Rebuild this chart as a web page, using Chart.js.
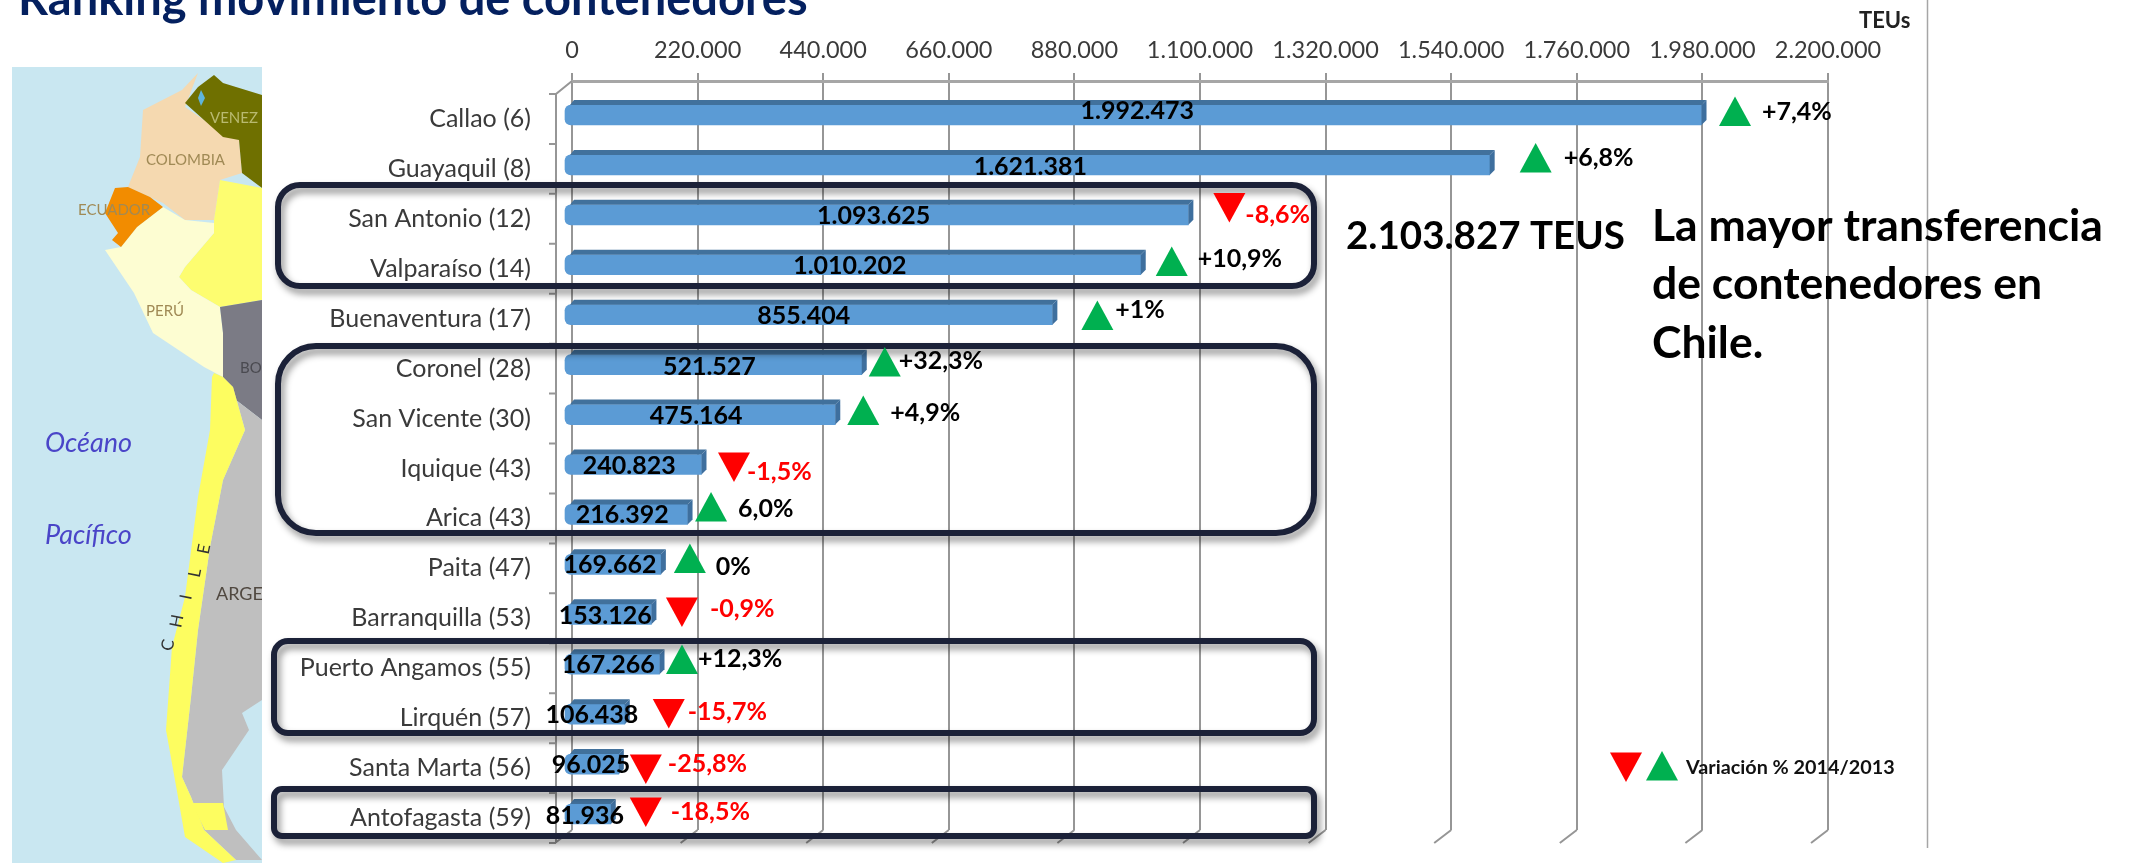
<!DOCTYPE html>
<html lang="es">
<head>
<meta charset="utf-8">
<title>Ranking movimiento de contenedores</title>
<script src="https://cdn.jsdelivr.net/npm/chart.js@4"></script>
<style>
  html, body { margin: 0; background: #fff; }
  canvas { display: block; }
</style>
</head>
<body>
<canvas id="mychart" width="2130" height="863"></canvas>
<script>
const puertos = ["Callao (6)", "Guayaquil (8)", "San Antonio (12)", "Valparaíso (14)", "Buenaventura (17)", "Coronel (28)", "San Vicente (30)", "Iquique (43)", "Arica (43)", "Paita (47)", "Barranquilla (53)", "Puerto Angamos (55)", "Lirquén (57)", "Santa Marta (56)", "Antofagasta (59)"];
const teus = [1992473, 1621381, 1093625, 1010202, 855404, 521527, 475164, 240823, 216392, 169662, 153126, 167266, 106438, 96025, 81936];
const teusTexto = ["1.992.473", "1.621.381", "1.093.625", "1.010.202", "855.404", "521.527", "475.164", "240.823", "216.392", "169.662", "153.126", "167.266", "106.438", "96.025", "81.936"];
const variacion = ["+7,4%", "+6,8%", "-8,6%", "+10,9%", "+1%", "+32,3%", "+4,9%", "-1,5%", "6,0%", "0%", "-0,9%", "+12,3%", "-15,7%", "-25,8%", "-18,5%"];
const xTicks = ["0", "220.000", "440.000", "660.000", "880.000", "1.100.000", "1.320.000", "1.540.000", "1.760.000", "1.980.000", "2.200.000"];

// ajustes a mano de las etiquetas, relativos a cada barra
const triDx = [33.5, 46, 41, 31, 45, 23, 28, 32.5, 23.5, 29, 30.5, 22.5, 44, 27, 35];
const triDy = [-3.5, -7, -7.4, -3.3, 0.8, -2.7, -4, 2.5, -7.4, -5.9, -2.3, -4.7, -0.7, 4.9, -2];
const varDx = [27, 28, 16, 26, 18, 14, 27, 13, 27, 26, 28, 16, 19, 22, 25];
const varDy = [-3, -7, 0, -6, -5, -4, -2, 7.5, -5, 2.6, -5, -5, -2, 0, -2];
const valDx = [4, 3, -3, -3, -5, -4, -4, -4, -4, -3, -3, -4, -3, -1, -3];
const valDy = [-4, 2, 1, 1, 1, 2, 1, 1.5, 0.6, 0.6, 1.7, 0.8, 0.8, 1, 2];

const FUENTE = "Lato, sans-serif";
const VERDE = "#00b050";
const ROJO = "#ff0000";
// desplazamiento de las barras respecto a la pared del fondo (efecto 3D)
const BAR_DX = -8;
const BAR_DY = 9;
const PROF = 5;

const poly = (ctx, color, pts) => {
  ctx.fillStyle = color;
  ctx.beginPath();
  pts.forEach((p, i) => (i ? ctx.lineTo(p[0], p[1]) : ctx.moveTo(p[0], p[1])));
  ctx.closePath();
  ctx.fill();
};

const texto = (ctx, str, x, y, font, color, align) => {
  ctx.font = font;
  ctx.fillStyle = color;
  ctx.textAlign = align || "left";
  ctx.textBaseline = "middle";
  ctx.fillText(str, x, y);
};

const triangulo = (ctx, cx, cy, sube) => {
  const s = sube ? -1 : 1;
  poly(ctx, sube ? VERDE : ROJO, [[cx - 16, cy - s * 14.5], [cx + 16, cy - s * 14.5], [cx, cy + s * 15]]);
};

const caja = (ctx, x, y, w, h, r) => {
  ctx.save();
  ctx.shadowColor = "rgba(0,0,0,0.45)";
  ctx.shadowBlur = 7;
  ctx.shadowOffsetX = 3;
  ctx.shadowOffsetY = 5;
  ctx.strokeStyle = "#1b2138";
  ctx.lineWidth = 6;
  ctx.beginPath();
  ctx.roundRect(x, y, w, h, r);
  ctx.stroke();
  ctx.restore();
};

const dibujarMapa = (ctx) => {
  ctx.save();
  ctx.beginPath();
  ctx.rect(12, 67, 250, 796);
  ctx.clip();
  ctx.fillStyle = "#c9e7f1";
  ctx.fillRect(12, 67, 250, 796);
  // Colombia
  poly(ctx, "#f5d9b0", [[198,73],[182,90],[143,110],[140,157],[128,187],[150,197],[163,203],[185,220],[214,220],[220,180],[242,173],[239,140],[223,133],[185,107]]);
  // Venezuela
  poly(ctx, "#6f7000", [[214,75],[198,87],[185,103],[223,137],[239,140],[242,173],[262,188],[262,95],[223,83]]);
  poly(ctx, "#5fb5dc", [[201,90],[205,98],[201,106],[198,98]]);
  // Brasil
  poly(ctx, "#fdfd70", [[220,180],[262,188],[262,300],[220,307],[191,290],[179,277],[185,267],[214,233],[214,220]]);
  // Perú
  poly(ctx, "#fdfdd2", [[121,247],[137,227],[163,207],[185,220],[214,223],[214,233],[185,267],[179,277],[191,290],[220,307],[223,333],[223,377],[204,367],[153,333],[134,293],[105,250]]);
  // Ecuador
  poly(ctx, "#f28c00", [[115,188],[105,213],[118,233],[112,240],[121,247],[137,227],[163,207],[150,197],[128,187]]);
  // Bolivia
  poly(ctx, "#7b7b85", [[220,307],[262,300],[262,420],[236,400],[223,377],[223,333]]);
  // Argentina
  poly(ctx, "#bfbfbf", [[223,377],[236,400],[262,420],[262,700],[242,713],[249,730],[222,770],[224,807],[236,830],[262,860],[236,860],[204,830],[191,797],[182,777],[191,697],[198,630],[210,547],[223,480],[245,430],[233,387]]);
  // Chile
  poly(ctx, "#fdfd60", [[214,373],[212,377],[210,430],[198,497],[185,597],[172,647],[166,730],[178,797],[185,837],[223,863],[236,860],[204,830],[191,797],[182,777],[191,697],[198,630],[210,547],[223,480],[245,430],[233,387],[223,377]]);
  poly(ctx, "#fdfd60", [[191,803],[223,803],[228,830],[205,830]]);
  const f = "15px " + FUENTE;
  texto(ctx, "VENEZ", 210, 118, "15px " + FUENTE, "#b9ba70");
  texto(ctx, "COLOMBIA", 146, 160, f, "#a08a55");
  texto(ctx, "ECUADOR", 78, 210, f, "#a08a55");
  texto(ctx, "PERÚ", 146, 311, f, "#a08a55");
  texto(ctx, "BO", 240, 368, f, "#4a4a50");
  texto(ctx, "ARGE", 216, 594, "18px " + FUENTE, "#504840");
  const it = "italic 27px " + FUENTE;
  texto(ctx, "Océano", 45, 443, it, "#4a45c8");
  texto(ctx, "Pacífico", 45, 535, it, "#4a45c8");
  ["C", "H", "I", "L", "E"].forEach((c, i) => {
    ctx.save();
    ctx.translate(168 + i * 9, 645 - i * 24);
    ctx.rotate(-Math.PI / 2 + 0.2);
    texto(ctx, c, 0, 0, "17px " + FUENTE, "#333", "center");
    ctx.restore();
  });
  ctx.restore();
};

const decoracion = {
  id: "decoracion",
  beforeDraw(chart) {
    const ctx = chart.ctx;
    dibujarMapa(ctx);
    ctx.save();
    // título, cortado por el borde superior como en la lámina
    ctx.textBaseline = "alphabetic";
    ctx.font = "bold 47px " + FUENTE;
    ctx.fillStyle = "#04205f";
    ctx.textAlign = "left";
    ctx.fillText("Ranking movimiento de contenedores", 18, 15);
    texto(ctx, "TEUs", 1859, 21, "bold 22px " + FUENTE, "#222");
    ctx.strokeStyle = "#a6a6a6";
    ctx.lineWidth = 1.5;
    ctx.beginPath();
    ctx.moveTo(1927.5, 0);
    ctx.lineTo(1927.5, 848);
    ctx.stroke();
    ctx.restore();
  },
  beforeDatasetsDraw(chart) {
    const ctx = chart.ctx;
    const { top, bottom, left } = chart.chartArea;
    const x = chart.scales.x;
    const alto = (bottom - top) / puertos.length;
    ctx.save();
    ctx.strokeStyle = "#969696";
    ctx.lineWidth = 2;
    ctx.beginPath();
    // pared frontal y esquina
    ctx.moveTo(left, top);
    ctx.lineTo(left - 16, top + 13);
    ctx.lineTo(left - 16, bottom + 13);
    puertos.forEach((p, i) => {
      ctx.moveTo(left - 23, top + 13 + i * alto);
      ctx.lineTo(left - 16, top + 13 + i * alto);
    });
    ctx.moveTo(left - 23, bottom + 13);
    ctx.lineTo(left - 16, bottom + 13);
    // pies inclinados de la rejilla
    x.ticks.forEach((t) => {
      const px = x.getPixelForValue(t.value);
      ctx.moveTo(px, bottom);
      ctx.lineTo(px - 17, bottom + 13);
    });
    ctx.stroke();
    ctx.restore();
  },
  beforeDatasetDraw(chart) {
    chart.ctx.save();
    chart.ctx.translate(BAR_DX, BAR_DY);
  },
  afterDatasetDraw(chart, args) {
    const ctx = chart.ctx;
    args.meta.data.forEach((bar) => {
      const t = bar.y - 10;
      const b = bar.y + 10;
      poly(ctx, "#41719c", [[bar.base + 5, t], [bar.base + PROF + 4, t - PROF], [bar.x + PROF, t - PROF], [bar.x, t]]);
      poly(ctx, "#3e6f9e", [[bar.x, t], [bar.x + PROF, t - PROF], [bar.x + PROF, b - PROF], [bar.x, b]]);
    });
    ctx.restore();
  },
  afterDatasetsDraw(chart) {
    const ctx = chart.ctx;
    ctx.save();
    caja(ctx, 278, 185, 1036, 101, 22);
    caja(ctx, 278, 346, 1036, 187, 38);
    caja(ctx, 274, 641, 1040, 92, 14);
    caja(ctx, 274, 789, 1040, 47, 8);

    const bold = "bold 25px " + FUENTE;
    chart.getDatasetMeta(0).data.forEach((bar, i) => {
      const fin = bar.x + BAR_DX;
      const cy = bar.y + BAR_DY;
      const medio = (bar.base + bar.x) / 2 + BAR_DX;
      const baja = variacion[i][0] === "-";
      const tx = fin + triDx[i];
      texto(ctx, teusTexto[i], medio + valDx[i], cy + valDy[i], bold, "#000", "center");
      triangulo(ctx, tx, cy + triDy[i], !baja);
      texto(ctx, variacion[i], tx + varDx[i], cy + varDy[i], bold, baja ? ROJO : "#000");
    });

    const grande = "bold 44.5px " + FUENTE;
    texto(ctx, "2.103.827 TEUS", 1346, 237, "bold 38.5px " + FUENTE, "#000");
    texto(ctx, "La mayor transferencia", 1652, 227, grande, "#000");
    texto(ctx, "de contenedores en", 1652, 285, grande, "#000");
    texto(ctx, "Chile.", 1652, 344, grande, "#000");
    triangulo(ctx, 1626, 767, false);
    triangulo(ctx, 1662, 766, true);
    texto(ctx, "Variación % 2014/2013", 1686, 768, "bold 19.8px " + FUENTE, "#111");
    ctx.restore();
  },
};

new Chart(document.getElementById("mychart"), {
  type: "bar",
  plugins: [decoracion],
  data: {
    labels: puertos,
    datasets: [
      {
        label: "TEUs",
        data: teus,
        backgroundColor: "#5b9bd5",
        borderWidth: 0,
        barThickness: 20,
        borderRadius: { topLeft: 6, bottomLeft: 6 },
        borderSkipped: false,
        clip: false,
      },
    ],
  },
  options: {
    indexAxis: "y",
    responsive: false,
    animation: false,
    events: [],
    layout: { padding: { left: 0, top: 0, right: 302, bottom: 33 } },
    plugins: { legend: { display: false }, tooltip: { enabled: false } },
    scales: {
      x: {
        position: "top",
        min: 0,
        max: 2200000,
        afterFit: (s) => { s.height = 81; },
        afterBuildTicks: (s) => {
          s.ticks = xTicks.map((t, i) => ({ value: i * 220000 }));
        },
        border: { display: true, color: "#a6a6a6", width: 3 },
        grid: { color: "#969696", lineWidth: 2, drawTicks: true, tickLength: 8 },
        ticks: {
          autoSkip: false,
          maxRotation: 0,
          padding: 8,
          color: "#3a3a3a",
          font: { family: "Lato", size: 23.5 },
          callback: (v, i) => xTicks[i],
        },
      },
      y: {
        afterFit: (s) => {
          s.width = 572;
          // sin esto la escala reserva medio rótulo arriba y abajo
          s.paddingTop = 0;
          s.paddingBottom = 0;
        },
        border: { display: false },
        grid: { display: false, drawTicks: false },
        ticks: {
          autoSkip: false,
          padding: 41,
          labelOffset: 13,
          color: "#3a3a3a",
          font: { family: "Lato", size: 25 },
        },
      },
    },
  },
});
</script>
</body>
</html>
